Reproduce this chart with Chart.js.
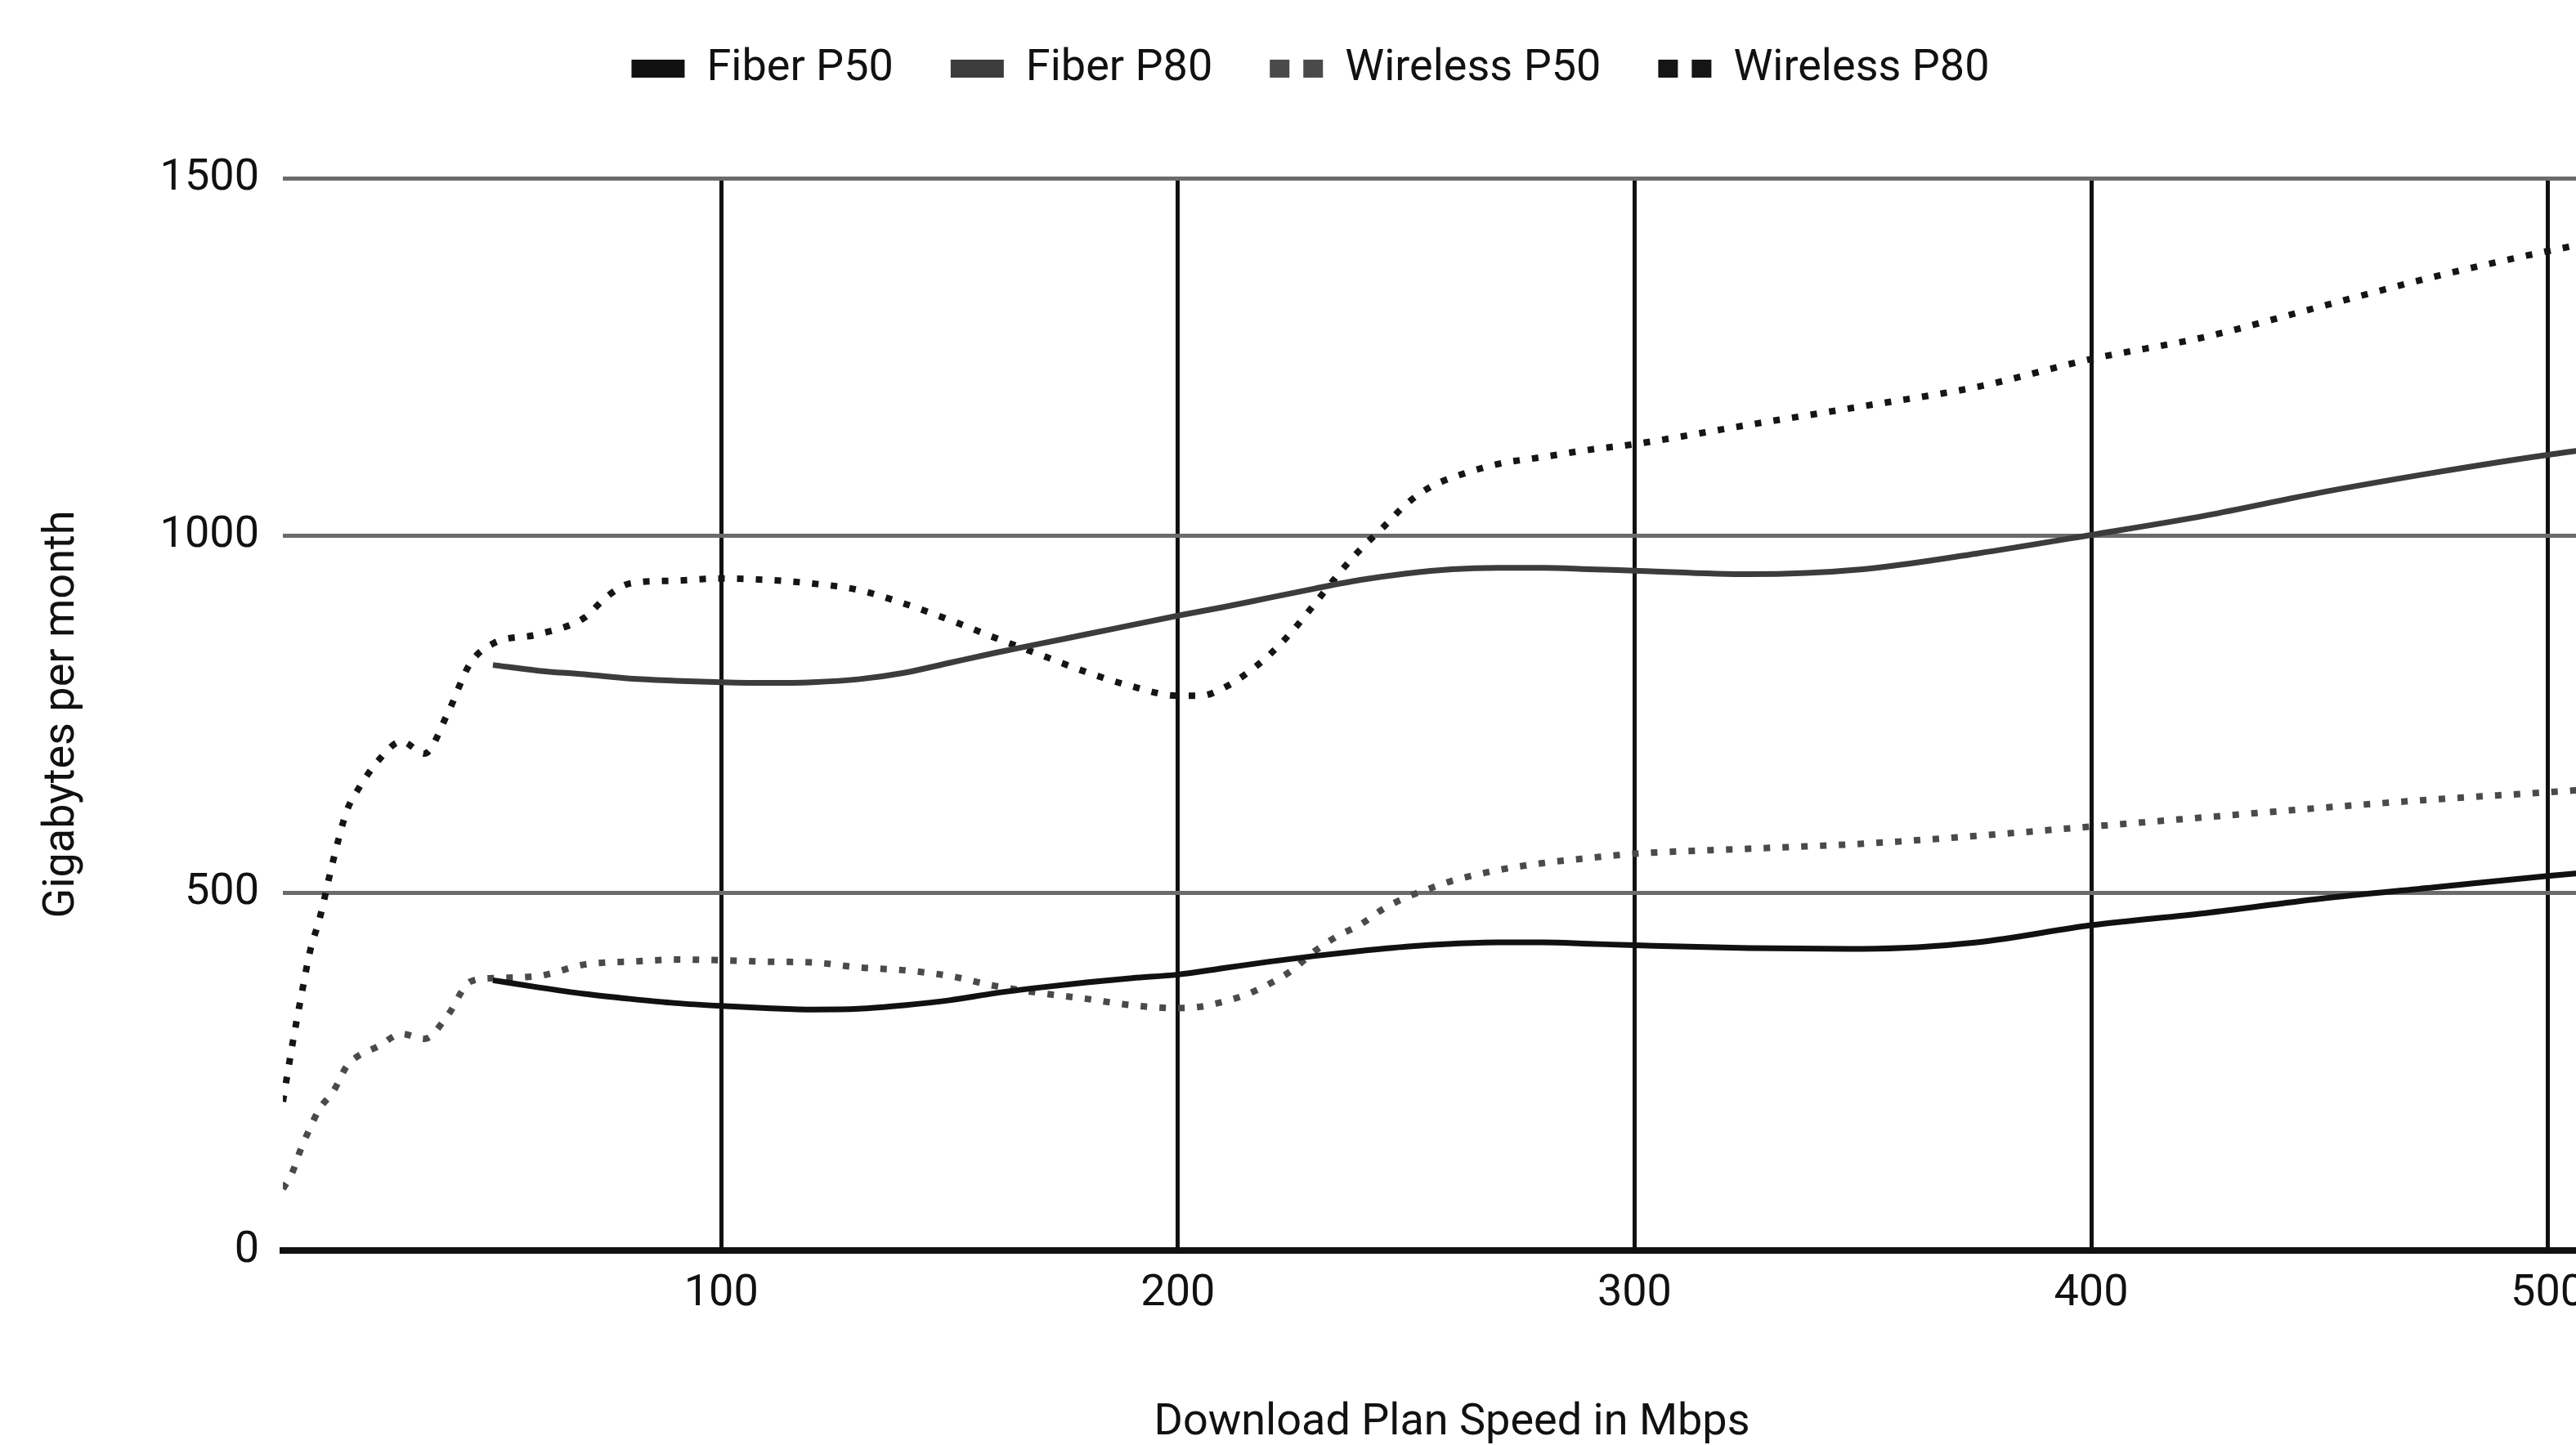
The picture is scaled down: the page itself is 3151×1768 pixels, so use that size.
<!DOCTYPE html>
<html>
<head>
<meta charset="utf-8">
<script src="https://cdn.jsdelivr.net/npm/chart.js@4/dist/chart.umd.min.js"></script>
<style>
  html, body { margin: 0; padding: 0; background: #fff; overflow: hidden; }
  canvas { display: block; }
</style>
</head>
<body>
<canvas id="c" width="3206" height="1768"></canvas>
<script>
// ---- data ----
const seriesNames = ['Fiber P50', 'Fiber P80', 'Wireless P50', 'Wireless P80'];

const fiberX   = [50,60,70,80,90,100,110,120,130,140,150,160,170,180,190,200,210,220,230,240,250,260,270,280,290,300,325,350,375,400,425,450,475,500,516];
const fiberP50 = [378,368,359,352,346,342,339,337,338,343,350,360,368,375,381,386,395,404,412,419,425,429,431,431,429,427,423,422,431,455,472,492,508,524,533];
const fiberP80 = [819,811,806,800,797,795,794,795,799,808,822,836,849,862,875,888,900,913,926,938,947,953,955,955,953,951,946,953,975,1001,1028,1060,1088,1113,1126];

const wirelessX   = [4,6,8,10,12,15,18,20,25,30,35,40,45,50,60,70,75,80,90,100,110,120,130,140,150,160,170,180,190,200,205,210,215,220,225,230,235,240,245,250,255,260,270,280,290,300,325,350,375,400,425,450,475,500,516];
const wirelessP50 = [86,108,143,172,198,222,258,270,286,303,296,328,376,381,384,400,403,404,407,406,404,403,396,392,384,370,360,352,343,339,341,348,358,373,392,419,440,456,478,494,506,517,532,542,549,555,562,569,580,593,606,619,631,641,648];
const wirelessP80 = [208,285,355,420,463,545,615,640,686,712,695,750,821,849,862,885,915,933,937,940,938,933,924,905,882,857,833,809,789,776,776,787,807,833,866,905,945,981,1012,1044,1067,1081,1100,1110,1120,1128,1155,1181,1208,1247,1278,1320,1362,1398,1418];

const xTicks = [100, 200, 300, 400, 500];
const yTicks = [0, 500, 1000, 1500];

// ---- chart ----
const FONT = 'Roboto';
const TXT = '#111111';

function pts(xs, ys) { return xs.map((x, i) => ({ x: x, y: ys[i] })); }

const legendSpacing = {
  id: 'legendSpacing',
  beforeInit(chart) {
    const fit = chart.legend.fit;
    chart.legend.fit = function () { fit.call(this); this.height = 231; };
  }
};

new Chart(document.getElementById('c'), {
  type: 'line',
  data: {
    datasets: [
      { label: seriesNames[0], data: pts(fiberX, fiberP50), borderColor: '#111111', backgroundColor: '#111111', borderWidth: 7 },
      { label: seriesNames[1], data: pts(fiberX, fiberP80), borderColor: '#3c3c3c', backgroundColor: '#3c3c3c', borderWidth: 7 },
      { label: seriesNames[2], data: pts(wirelessX, wirelessP50), borderColor: '#4a4a4a', backgroundColor: '#4a4a4a', borderWidth: 8, borderDash: [8, 15] },
      { label: seriesNames[3], data: pts(wirelessX, wirelessP80), borderColor: '#151515', backgroundColor: '#151515', borderWidth: 8, borderDash: [8, 15] }
    ]
  },
  options: {
    responsive: false,
    animation: false,
    devicePixelRatio: 1,
    layout: { padding: { top: -13, left: 0, right: 0, bottom: 0 } },
    elements: {
      point: { radius: 0, hoverRadius: 0, pointStyle: 'line' },
      line: { cubicInterpolationMode: 'monotone', fill: false, borderCapStyle: 'butt' }
    },
    plugins: {
      tooltip: { enabled: false },
      legend: {
        position: 'top',
        align: 'center',
        labels: {
          font: { family: FONT, size: 54 },
          color: TXT,
          usePointStyle: true,
          pointStyleWidth: 65,
          padding: 70,
          generateLabels(chart) {
            const items = Chart.defaults.plugins.legend.labels.generateLabels(chart);
            return items.map((it, i) => {
              it.pointStyle = 'line';
              it.lineWidth = 22;
              it.lineDash = i >= 2 ? [24, 17] : [];
              it.fillStyle = it.strokeStyle;
              it.fontColor = TXT;
              return it;
            });
          }
        }
      }
    },
    scales: {
      x: {
        type: 'linear',
        min: 4,
        max: 516,
        afterBuildTicks(scale) { scale.ticks = xTicks.map(v => ({ value: v })); },
        afterFit(scale) { scale.height = 238; },
        grid: { color: '#111111', lineWidth: 5, drawTicks: false },
        border: { display: true, color: '#111111', width: 8 },
        ticks: { font: { family: FONT, size: 54 }, color: TXT, padding: 21, maxRotation: 0, autoSkip: false,
                 callback: v => String(v) },
        title: {
          display: true,
          text: 'Download Plan Speed in Mbps',
          font: { family: FONT, size: 54, lineHeight: 1 },
          color: TXT,
          padding: { top: 0, bottom: 0 }
        }
      },
      y: {
        min: 0,
        max: 1500,
        afterBuildTicks(scale) { scale.ticks = yTicks.map(v => ({ value: v })); },
        afterFit(scale) { scale.width = 346; },
        grid: {
          color: ctx => (ctx.tick && ctx.tick.value === 0) ? '#111111' : '#6b6b6b',
          lineWidth: 5,
          drawTicks: false
        },
        border: { display: false },
        ticks: { font: { family: FONT, size: 54 }, color: TXT, padding: 29, callback: v => String(v) },
        title: {
          display: true,
          text: 'Gigabytes per month',
          font: { family: FONT, size: 54 },
          color: TXT,
          padding: { top: 44, bottom: 0 }
        }
      }
    }
  },
  plugins: [legendSpacing]
});
</script>
</body>
</html>
